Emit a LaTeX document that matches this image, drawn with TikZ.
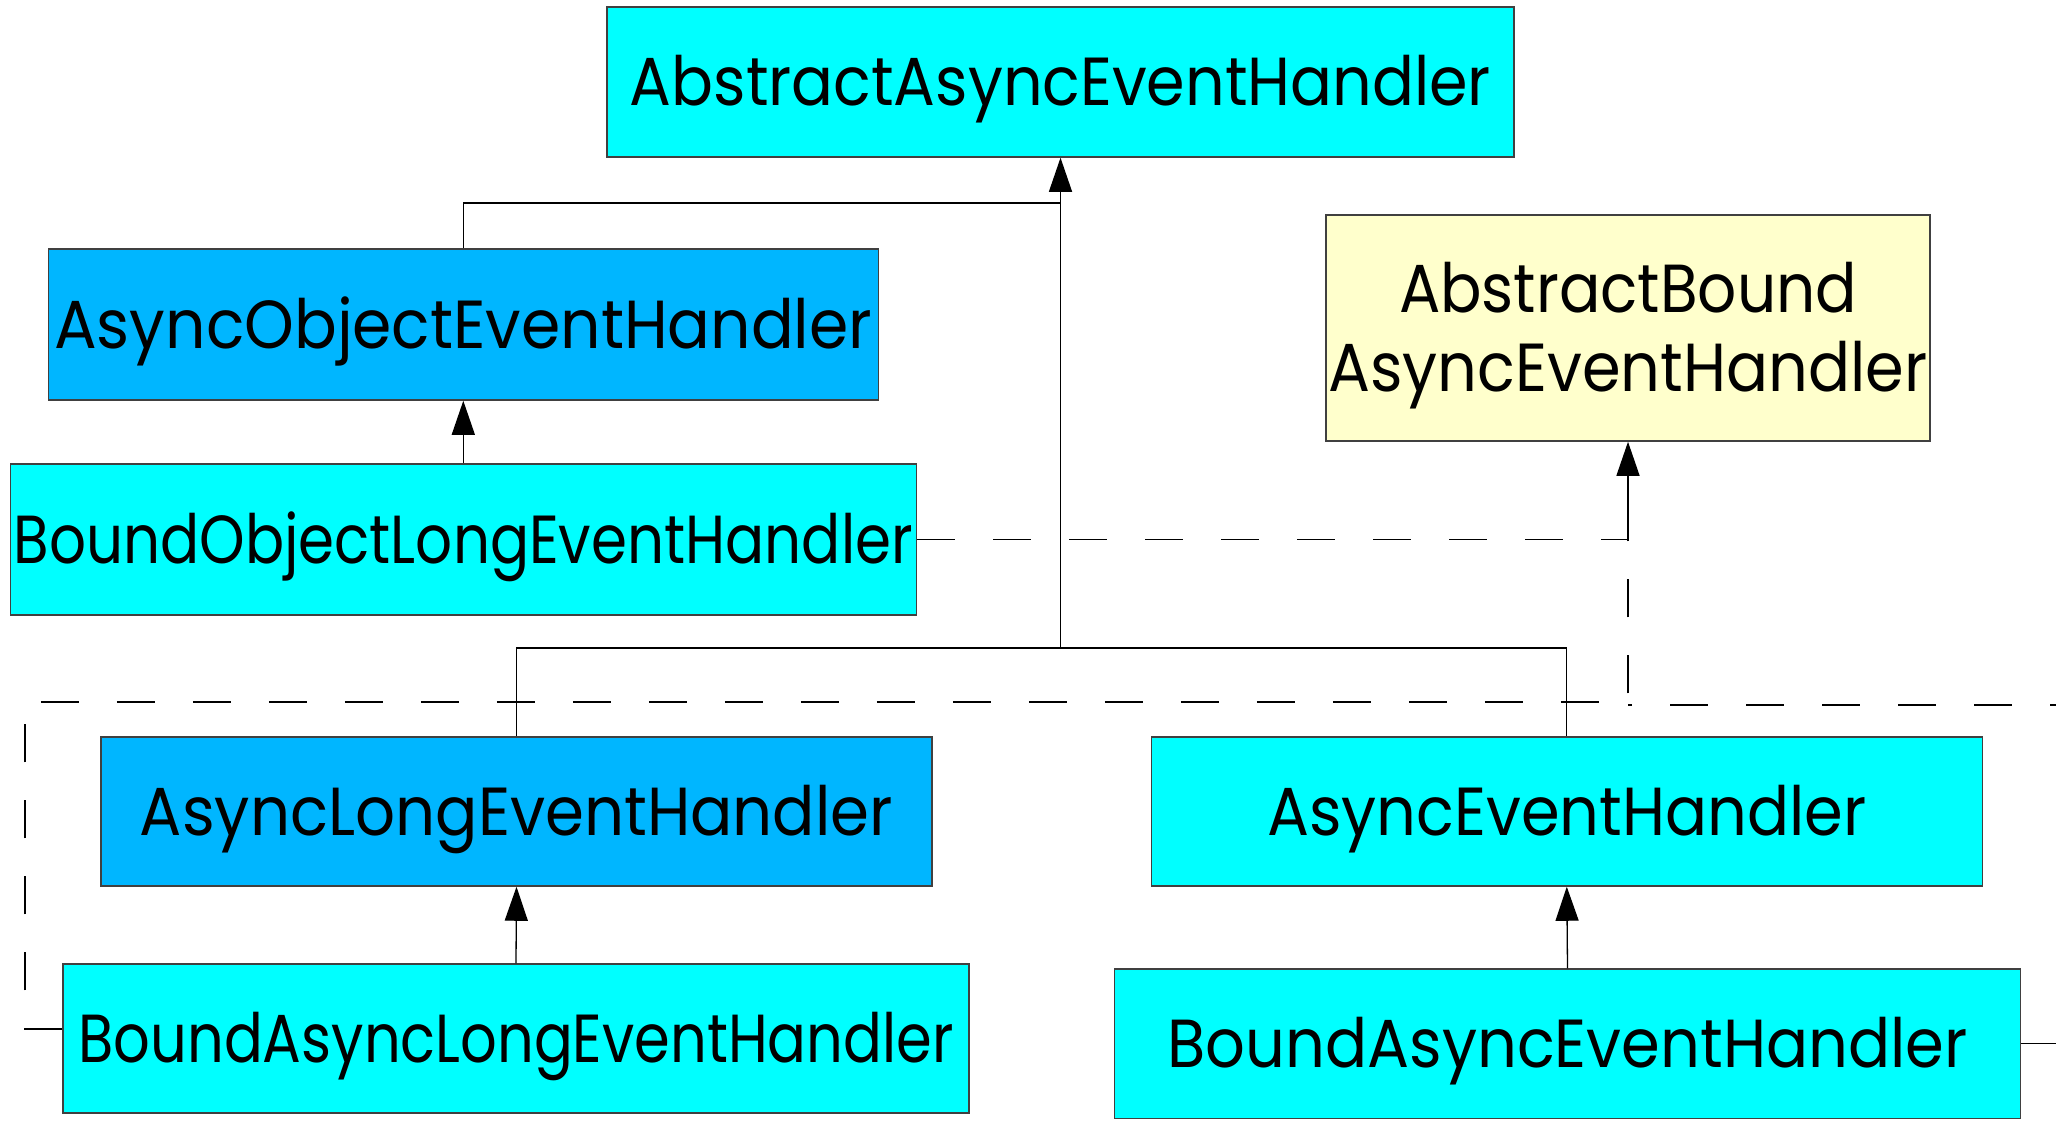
\documentclass[tikz,border=0pt]{standalone}
\usepackage{fontspec}
\setmainfont{Poppins}
\usetikzlibrary{arrows.meta}
\definecolor{cy}{RGB}{0,255,255}
\definecolor{bl}{RGB}{0,182,255}
\definecolor{yl}{RGB}{255,255,204}
\newcommand\tw[2]{\resizebox{#1}{\height}{#2}}
\begin{document}
\begin{tikzpicture}[x=1pt,y=-1pt,
  cls/.style={draw=black!75, line width=1.5pt, inner sep=0pt,
    text height=47pt, text depth=0pt,
    font=\fontsize{68pt}{79pt}\selectfont},
  conn/.style={line width=1.3pt},
  inh/.style={conn, -{Triangle[length=34pt,width=23pt]}},
  dep/.style={conn, dash pattern=on 38pt off 38pt}]
\useasboundingbox (0,0) rectangle (2056,1120);
\fill[white] (0,0) rectangle (2056,1120);

\node[cls, fill=cy, minimum width=907pt, minimum height=150pt] (aaeh) at (1060.5,82)
  {\tw{861pt}{AbstractAsyncEventHandler}};
\node[cls, fill=bl, minimum width=830pt, minimum height=151pt] (aoeh) at (463.3,324.5)
  {\tw{818pt}{AsyncObjectEventHandler}};
\node[cls, fill=cy, minimum width=906pt, minimum height=151pt] (boleh) at (463.3,539.5)
  {\tw{899pt}{BoundObjectLongEventHandler}};
\node[cls, fill=yl, minimum width=604pt, minimum height=226pt, align=center,
  text height=126pt, text depth=0pt] (abaeh) at (1628,328)
  {\tw{458pt}{AbstractBound}\\\tw{599pt}{AsyncEventHandler}};
\node[cls, fill=bl, minimum width=831pt, minimum height=149pt] (aleh) at (516.5,811.5)
  {\tw{753pt}{AsyncLongEventHandler}};
\node[cls, fill=cy, minimum width=831pt, minimum height=149pt] (aeh) at (1566.8,811.5)
  {\tw{599pt}{AsyncEventHandler}};
\node[cls, fill=cy, minimum width=906pt, minimum height=149pt] (baleh) at (516,1038.5)
  {\tw{875pt}{BoundAsyncLongEventHandler}};
\node[cls, fill=cy, minimum width=906pt, minimum height=149.5pt] (baeh) at (1567.5,1043.8)
  {\tw{800pt}{BoundAsyncEventHandler}};

\coordinate (k1) at (1060.5,203);
\coordinate (k2) at (1060.5,648);
\draw[conn] (aoeh.north) |- (k1);
\draw[inh] (k2) -- (aaeh.south);
\draw[conn] (aleh.north) |- (k2) -| (aeh.north);

\draw[inh] (boleh.north) -- (aoeh.south);
\draw[inh] (baleh.north) -- (aleh.south);
\draw[inh] (baeh.north) -- (aeh.south);

\coordinate (d1) at (1628,539.5);
\draw[dep] (boleh.east) -- (d1);
\draw[inh] (d1) -- (abaeh.south);
\coordinate (l1) at (25,1029);
\coordinate (l2) at (25,702);
\coordinate (l3) at (1628,702);
\draw[dep] (baleh.west |- l1) -- (l1) -- (l2) -- (l3) -- (d1);
\coordinate (r1) at (2075,1043.8);
\coordinate (r2) at (2075,705);
\coordinate (r3) at (1628,705);
\draw[dep] (baeh.east) -- (r1) -- (r2) -- (r3);
\end{tikzpicture}
\end{document}
